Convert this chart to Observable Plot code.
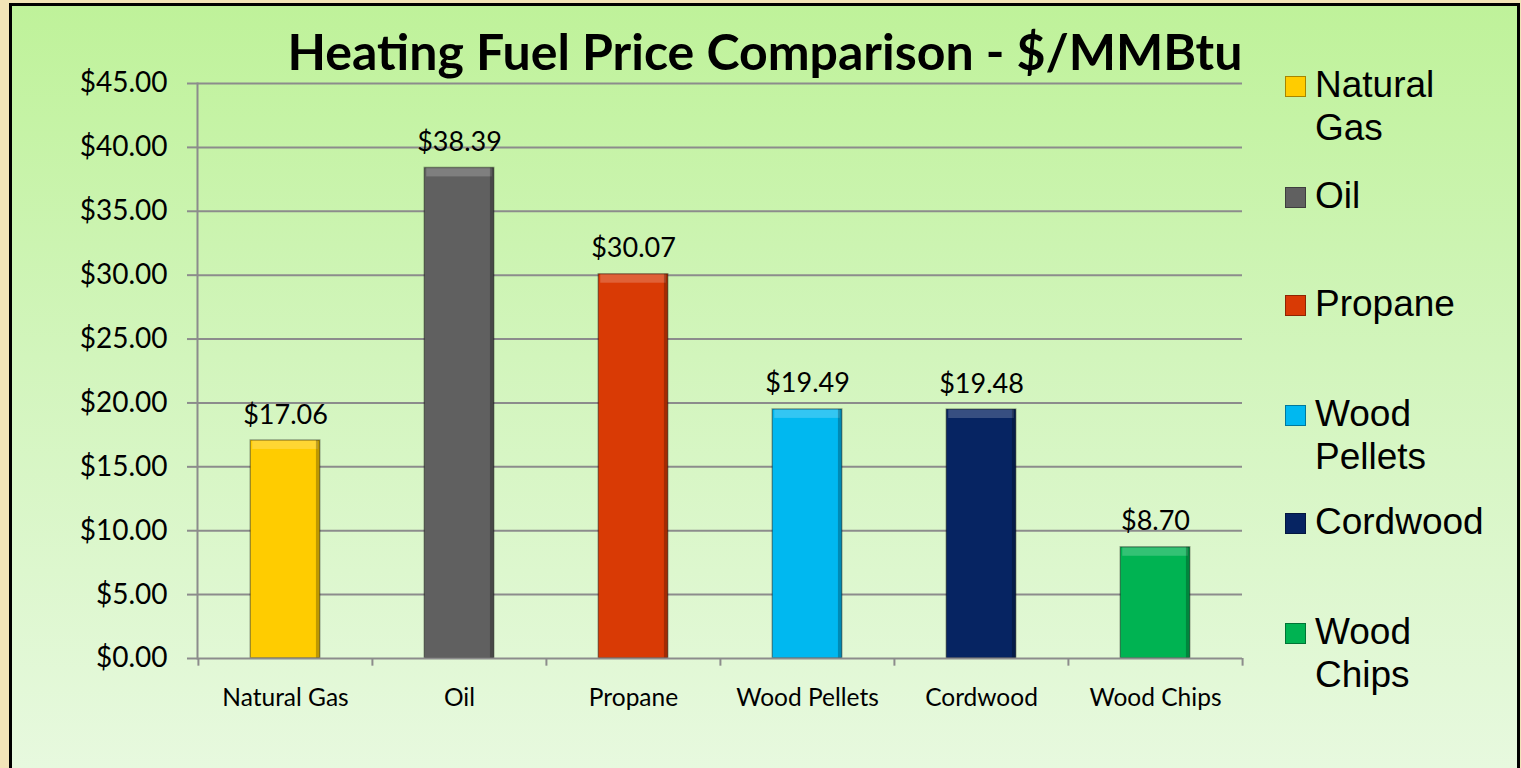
<!DOCTYPE html>
<html><head><meta charset="utf-8">
<script src="https://cdn.jsdelivr.net/npm/d3@7"></script>
<script src="https://cdn.jsdelivr.net/npm/@observablehq/plot@0.6"></script>
<style>
html,body{margin:0;padding:0;background:#f2e4b8;width:1521px;height:768px;overflow:hidden;}
#panel{position:absolute;left:9px;top:3px;width:1505px;height:780px;border:3px solid #000;
 background:linear-gradient(to bottom,#bff29a 0%,#d2f5bc 45%,#e8f9e0 100%);}
#chart{position:absolute;left:0;top:0;}
#title{position:absolute;left:0;top:21px;width:1530px;text-align:center;font-family:Lato,sans-serif;font-weight:bold;font-size:50px;color:#000;}
.leg{position:absolute;left:1285px;font-family:"Liberation Sans",Arial,sans-serif;font-size:37px;line-height:43px;color:#000;}
.leg .sw{position:absolute;left:0;top:4px;width:21px;height:21px;box-sizing:border-box;}
.leg .lb{position:absolute;left:30px;top:-9px;white-space:nowrap;}
</style></head>
<body>
<div id="panel"></div>
<div id="chart"></div>
<div id="title"></div>
<div id="legend"></div>
<script>
const titleText = "Heating Fuel Price Comparison - $/MMBtu";
const fuels = ["Natural Gas","Oil","Propane","Wood Pellets","Cordwood","Wood Chips"];
const prices = [17.06,38.39,30.07,19.49,19.48,8.70];
const colors = ["#ffcc00","#606060","#d93a05","#00b8f0","#062462","#00b352"];
const legendLines = [["Natural","Gas"],["Oil"],["Propane"],["Wood","Pellets"],["Cordwood"],["Wood","Chips"]];
const yTicks = [0,5,10,15,20,25,30,35,40,45];

const data = fuels.map((f,i)=>({fuel:f, price:prices[i], color:colors[i]}));
const fmt = v => "$" + v.toFixed(2);

const mLeft = 197, mRight = 279, mTop = 83, mBottom = 110;
const step = (1521 - mLeft - mRight) / fuels.length;
const inset = step * 0.3;

const chart = Plot.plot({
  width: 1521, height: 768,
  marginLeft: mLeft, marginRight: mRight, marginTop: mTop, marginBottom: mBottom,
  style: {background: "transparent", fontFamily: "Lato, sans-serif", color: "#000"},
  x: {domain: fuels, padding: 0, label: null},
  y: {domain: [0,45], label: null},
  marks: [
    Plot.gridY(yTicks.filter(d=>d>0), {stroke: "#8c8c8c", strokeOpacity: 1, strokeWidth: 2}),
    Plot.barY(data, {x: "fuel", y: "price", fill: d=>d.color, insetLeft: inset, insetRight: inset}),
    // bevel highlight at top of each bar
    Plot.barY(data, {x: "fuel", y1: d=>d.price - 0.7, y2: "price", fill: "#fff", fillOpacity: 0.2, insetLeft: inset + 2, insetRight: inset + 2}),
    // darker right edge
    Plot.barY(data, {x: "fuel", y: "price", fill: "#000", fillOpacity: 0.25, insetLeft: step - inset - 4, insetRight: inset}),
    Plot.barY(data, {x: "fuel", y: "price", fill: "none", stroke: "#000", strokeOpacity: 0.35, strokeWidth: 1.5, insetLeft: inset, insetRight: inset}),
    Plot.ruleY([0], {stroke: "#8c8c8c", strokeWidth: 2}),
    Plot.ruleX(fuels, {x: d=>d, y1: 0, y2: -0.6, dx: -step/2, stroke: "#8c8c8c", strokeWidth: 2}),
    Plot.ruleX([fuels[fuels.length-1]], {x: d=>d, y1: 0, y2: -0.6, dx: step/2, stroke: "#8c8c8c", strokeWidth: 2}),
    Plot.frame({anchor: "left", stroke: "#8c8c8c", strokeWidth: 2}),
    Plot.axisY({ticks: yTicks, tickFormat: fmt, tickSize: 10, tickPadding: 20, fontSize: 28, stroke: "#8c8c8c", strokeWidth: 2, label: null}),
    Plot.axisX({tickSize: 0, tickPadding: 30, fontSize: 24.5, label: null}),
    Plot.text(data, {x: "fuel", y: "price", text: d=>fmt(d.price), dy: -17, lineAnchor: "bottom", fontSize: 27, fill: "#000"})
  ]
});
document.getElementById("chart").appendChild(chart);
document.getElementById("title").textContent = titleText;

const legTops = [72,183,291,401,509,619];
const legend = document.getElementById("legend");
fuels.forEach((f,i)=>{
  const d = document.createElement("div");
  d.className = "leg";
  d.style.top = legTops[i] + "px";
  const sw = document.createElement("div");
  sw.className = "sw";
  sw.style.background = colors[i];
  sw.style.border = "1px solid rgba(0,0,0,0.35)";
  const lb = document.createElement("div");
  lb.className = "lb";
  lb.innerHTML = legendLines[i].join("<br>");
  d.appendChild(sw); d.appendChild(lb);
  legend.appendChild(d);
});
</script>
</body></html>
